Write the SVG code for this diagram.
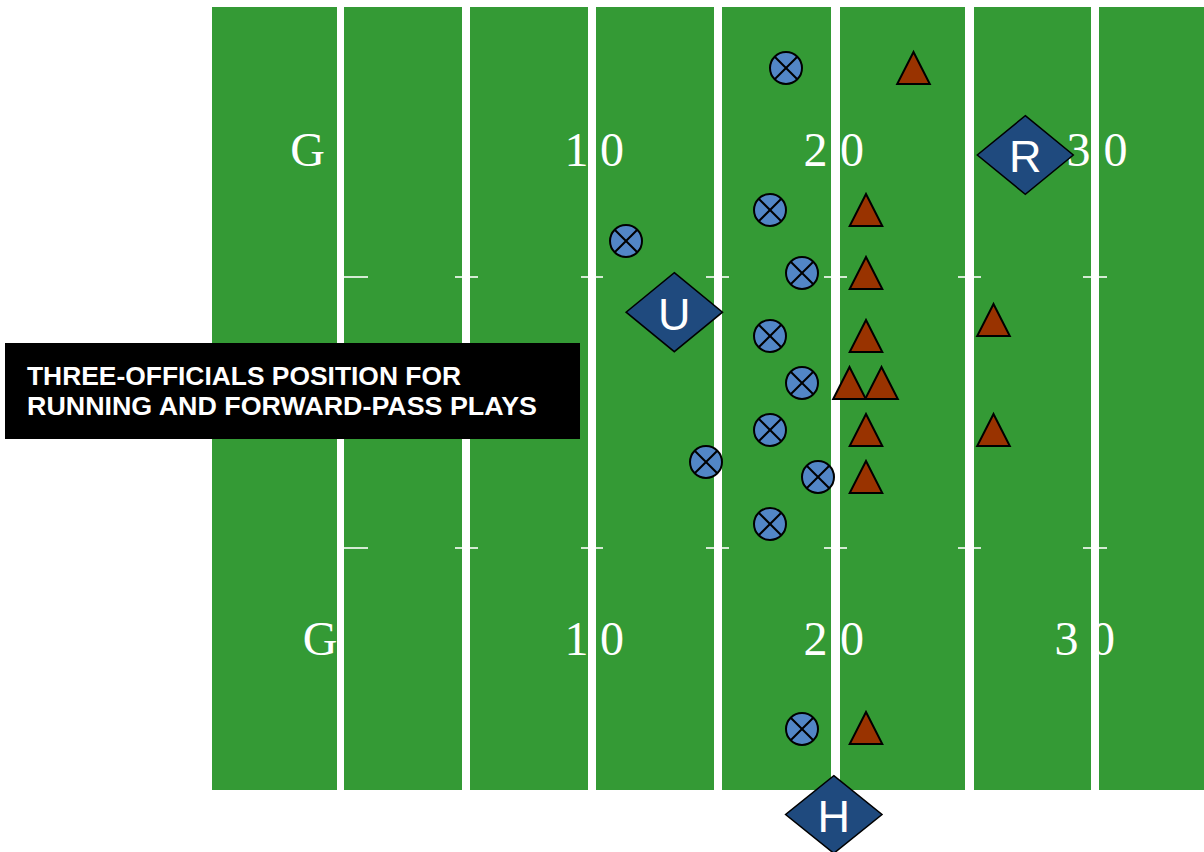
<svg xmlns="http://www.w3.org/2000/svg" width="1204" height="852" viewBox="0 0 1204 852">
<style>
.fld{fill:#349a35}
.hash{stroke:#ffffff;stroke-width:1.6}
.num{font-family:"Liberation Serif","Times New Roman",serif;font-size:48px;fill:#ffffff;text-anchor:middle}
.oxc{fill:#5286c6;stroke:#000000;stroke-width:2}
.oxl{stroke:#000000;stroke-width:2}
.df{fill:#993300;stroke:#000;stroke-width:2;stroke-linejoin:miter}
.off polygon{fill:#1f4a7e;stroke:#000;stroke-width:1.5}
.off text{font-family:"Liberation Sans",Arial,sans-serif;font-size:45px;fill:#ffffff;text-anchor:middle}
.title{font-family:"Liberation Sans",Arial,sans-serif;font-weight:bold;font-size:25px;fill:#ffffff}
</style>
<defs>
<g id="ox"><circle class="oxc" r="16"/><line class="oxl" x1="-11.3" y1="-11.3" x2="11.3" y2="11.3"/><line class="oxl" x1="-11.3" y1="11.3" x2="11.3" y2="-11.3"/></g>
<path id="tri" d="M0,-16 L16.3,16 L-16.3,16 Z"/>
</defs>
<rect width="1204" height="852" fill="#ffffff"/>
<g id="field">
<rect class="fld" x="212" y="7" width="125" height="783"/>
<rect class="fld" x="344" y="7" width="118" height="783"/>
<rect class="fld" x="470" y="7" width="118" height="783"/>
<rect class="fld" x="596" y="7" width="118" height="783"/>
<rect class="fld" x="722" y="7" width="109" height="783"/>
<rect class="fld" x="840" y="7" width="125" height="783"/>
<rect class="fld" x="974" y="7" width="117" height="783"/>
<rect class="fld" x="1099" y="7" width="105" height="783"/>
<g id="hashmarks">
<line class="hash" x1="344" y1="277" x2="368" y2="277"/>
<line class="hash" x1="455" y1="277" x2="478" y2="277"/>
<line class="hash" x1="581" y1="277" x2="603" y2="277"/>
<line class="hash" x1="706" y1="277" x2="729" y2="277"/>
<line class="hash" x1="824" y1="277" x2="847" y2="277"/>
<line class="hash" x1="958" y1="277" x2="981" y2="277"/>
<line class="hash" x1="1083" y1="277" x2="1107" y2="277"/>
<line class="hash" x1="344" y1="548" x2="368" y2="548"/>
<line class="hash" x1="455" y1="548" x2="478" y2="548"/>
<line class="hash" x1="581" y1="548" x2="603" y2="548"/>
<line class="hash" x1="706" y1="548" x2="729" y2="548"/>
<line class="hash" x1="824" y1="548" x2="847" y2="548"/>
<line class="hash" x1="958" y1="548" x2="981" y2="548"/>
<line class="hash" x1="1083" y1="548" x2="1107" y2="548"/>
</g>
<g id="numbers">
<text class="num" x="307.5" y="166">G</text>
<text class="num" x="576.5" y="166">1</text>
<text class="num" x="612" y="166">0</text>
<text class="num" x="815.5" y="166">2</text>
<text class="num" x="852" y="166">0</text>
<text class="num" x="1078.5" y="166">3</text>
<text class="num" x="1115.5" y="166">0</text>
<text class="num" x="320" y="655">G</text>
<text class="num" x="576.5" y="655">1</text>
<text class="num" x="612" y="655">0</text>
<text class="num" x="815.5" y="655">2</text>
<text class="num" x="852" y="655">0</text>
<text class="num" x="1066.5" y="655">3</text>
<text class="num" x="1103" y="655">0</text>
</g>
</g>
<g id="offense">
<use id="o1" href="#ox" x="786" y="68"/>
<use id="o2" href="#ox" x="770" y="210"/>
<use id="o3" href="#ox" x="626" y="241"/>
<use id="o4" href="#ox" x="802" y="273"/>
<use id="o5" href="#ox" x="770" y="336"/>
<use id="o6" href="#ox" x="802" y="383"/>
<use id="o7" href="#ox" x="770" y="430"/>
<use id="o8" href="#ox" x="706" y="462"/>
<use id="o9" href="#ox" x="818" y="477"/>
<use id="o10" href="#ox" x="770" y="524"/>
<use id="o11" href="#ox" x="802" y="729"/>
</g>
<g id="defense" class="df">
<use id="d1" href="#tri" x="913.5" y="68"/>
<use id="d2" href="#tri" x="866" y="210"/>
<use id="d3" href="#tri" x="866" y="273"/>
<use id="d4" href="#tri" x="866" y="336"/>
<use id="d5" href="#tri" x="849.5" y="383"/>
<use id="d6" href="#tri" x="881.5" y="383"/>
<use id="d7" href="#tri" x="866" y="430"/>
<use id="d8" href="#tri" x="866" y="477"/>
<use id="d9" href="#tri" x="866" y="728"/>
<use id="d10" href="#tri" x="993.5" y="320"/>
<use id="d11" href="#tri" x="993.5" y="430"/>
</g>
<g id="official-R" class="off">
<polygon points="1025.3,115.7 1073.3,155 1025.3,194.3 977.3,155"/>
<text x="1025.3" y="172">R</text>
</g>
<g id="official-U" class="off">
<polygon points="674.3,272.7 722.5,312.2 674.3,351.7 626.1,312.2"/>
<text x="674.3" y="330">U</text>
</g>
<g id="official-H" class="off">
<polygon points="833.8,775.7 882,814.5 833.8,853.3 785.6,814.5"/>
<text x="833.8" y="832">H</text>
</g>
<g id="title-box">
<rect x="5" y="343" width="575" height="96" fill="#000000"/>
<text class="title" x="27" y="384.5" textLength="434" lengthAdjust="spacingAndGlyphs">THREE-OFFICIALS POSITION FOR</text>
<text class="title" x="27" y="415" textLength="510" lengthAdjust="spacingAndGlyphs">RUNNING AND FORWARD-PASS PLAYS</text>
</g>
</svg>
